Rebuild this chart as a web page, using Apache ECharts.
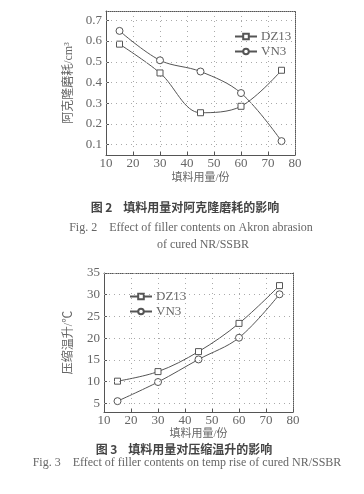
<!DOCTYPE html>
<html><head><meta charset="utf-8">
<script src="https://cdn.jsdelivr.net/npm/echarts@6/dist/echarts.min.js"></script>
<style>html,body{margin:0;padding:0;background:#fff}#c{width:364px;height:494px}</style>
</head><body><div id="c"></div>
<script>
const fillerX = [15, 30, 45, 60, 75];
const xTicks = [10, 20, 30, 40, 50, 60, 70, 80];
const abrasionDZ13 = [0.585, 0.446, 0.254, 0.285, 0.459];
const abrasionVN3 = [0.649, 0.507, 0.453, 0.349, 0.117];
const abrasionTicks = [0.1, 0.2, 0.3, 0.4, 0.5, 0.6, 0.7];
const tempDZ13 = [10.1, 12.3, 16.9, 23.4, 32.1];
const tempVN3 = [5.5, 9.9, 15.1, 20.1, 30.1];
const tempTicks = [5, 10, 15, 20, 25, 30, 35];

const serif = '"Liberation Serif","DejaVu Serif",serif';
const cjk = '"Liberation Serif","Noto Sans CJK SC",serif';
const ink = '#555';
const txt = '#666';

function pairs(xs, ys){ return xs.map((x,i)=>[x, ys[i]]); }

function xAx(gi, gap){
  return {
    type:'value', gridIndex:gi, min:10, max:80, interval:10,
    name:'填料用量/份', nameLocation:'middle', nameGap:gap,
    nameTextStyle:{color:txt, fontFamily:cjk, fontSize:11},
    axisLine:{show:true, lineStyle:{color:ink, width:1}},
    axisTick:{show:true, inside:true, length:3, lineStyle:{color:ink}},
    axisLabel:{color:txt, fontFamily:serif, fontSize:13, margin:2},
    splitLine:{show:true, lineStyle:{color:'#aaa', type:[1,4], width:1}}
  };
}
function xTop(gi){
  return {type:'value', gridIndex:gi, min:10, max:80, interval:10, position:'top',
    axisLine:{show:true, onZero:false, lineStyle:{color:ink, type:[1,1]}}, axisTick:{show:false}, axisLabel:{show:false}, splitLine:{show:false}};
}
function yAx(gi, min, max, ticks, name, gap){
  return {
    type:'value', gridIndex:gi, min:min, max:max,
    name:name, nameLocation:'middle', nameGap:gap, nameRotate:90,
    nameTextStyle:{color:txt, fontFamily:cjk, fontSize:12},
    axisLine:{show:true, onZero:false, lineStyle:{color:ink}},
    axisTick:{show:true, inside:true, length:3, customValues:ticks, lineStyle:{color:ink}},
    axisLabel:{color:txt, fontFamily:serif, fontSize:13, margin:4, customValues:ticks},
    splitLine:{show:false}
  };
}
function yRight(gi, min, max){
  return {type:'value', gridIndex:gi, min:min, max:max, position:'right',
    axisLine:{show:true, onZero:false, lineStyle:{color:ink, type:[1,1]}}, axisTick:{show:false}, axisLabel:{show:false}, splitLine:{show:false}};
}
function ser(name, gi, data, sym, gridTicks){
  const s = {
    name:name, type:'line', xAxisIndex:gi*2, yAxisIndex:gi*2, data:data, smooth:0.35,
    symbol:sym, symbolSize:sym==='rect'?6:7, showSymbol:true,
    lineStyle:{color:ink, width:1}, itemStyle:{color:'#fff', borderColor:ink, borderWidth:1},
    emphasis:{disabled:true}
  };
  if (gridTicks) {
    s.markLine = {silent:true, symbol:'none', label:{show:false}, animation:false,
      lineStyle:{color:'#aaa', type:[1,4], width:1},
      data: gridTicks.map(v=>({yAxis:v}))};
  }
  return s;
}
const chart = echarts.init(document.getElementById('c'), null, {renderer:'canvas'});
chart.setOption({
  animation:false,
  backgroundColor:'#fff',
  grid:[
    {left:106, right:69, top:11, height:144},
    {left:104, right:71, top:273, height:139}
  ],
  xAxis:[xAx(0, 18), xTop(0), xAx(1, 17), xTop(1)],
  yAxis:[
    yAx(0, 0.05, 0.745, abrasionTicks, '阿克隆磨耗/cm³', 30),
    yRight(0, 0.05, 0.745),
    yAx(1, 3, 35, tempTicks, '压缩温升/℃', 29),
    yRight(1, 3, 35)
  ],
  legend:[
    {data:['DZ13','VN3'], orient:'vertical', left:229, top:25, itemWidth:22, itemHeight:7, itemGap:2,
      textStyle:{color:txt, fontFamily:serif, fontSize:13, padding:[0,0,0,-1]}, selectedMode:false},
    {data:['DZ13 ','VN3 '], orient:'vertical', left:124, top:285, itemWidth:22, itemHeight:7, itemGap:2,
      textStyle:{color:txt, fontFamily:serif, fontSize:13, padding:[0,0,0,-1]}, selectedMode:false}
  ],
  title:[
    {text:'图 2    填料用量对阿克隆磨耗的影响', left:180, top:196, textAlign:'center',
      textStyle:{color:'#444', fontFamily:'"Noto Sans CJK SC",sans-serif', fontSize:12, fontWeight:'bold'}},
    {text:'Fig. 2    Effect of filler contents on Akron abrasion', left:186, top:217, textAlign:'center',
      textStyle:{color:txt, fontFamily:serif, fontSize:12, fontWeight:'normal'}},
    {text:'of cured NR/SSBR', left:198, top:234, textAlign:'center',
      textStyle:{color:txt, fontFamily:serif, fontSize:12, fontWeight:'normal'}},
    {text:'图 3    填料用量对压缩温升的影响', left:179, top:438, textAlign:'center',
      textStyle:{color:'#444', fontFamily:'"Noto Sans CJK SC",sans-serif', fontSize:12, fontWeight:'bold'}},
    {text:'Fig. 3    Effect of filler contents on temp rise of cured NR/SSBR', left:182, top:452, textAlign:'center',
      textStyle:{color:txt, fontFamily:serif, fontSize:12, fontWeight:'normal'}}
  ],
  series:[
    ser('DZ13', 0, pairs(fillerX, abrasionDZ13), 'rect', abrasionTicks),
    ser('VN3', 0, pairs(fillerX, abrasionVN3), 'circle'),
    ser('DZ13 ', 1, pairs(fillerX, tempDZ13), 'rect', tempTicks),
    ser('VN3 ', 1, pairs(fillerX, tempVN3), 'circle')
  ]
});
</script></body></html>
